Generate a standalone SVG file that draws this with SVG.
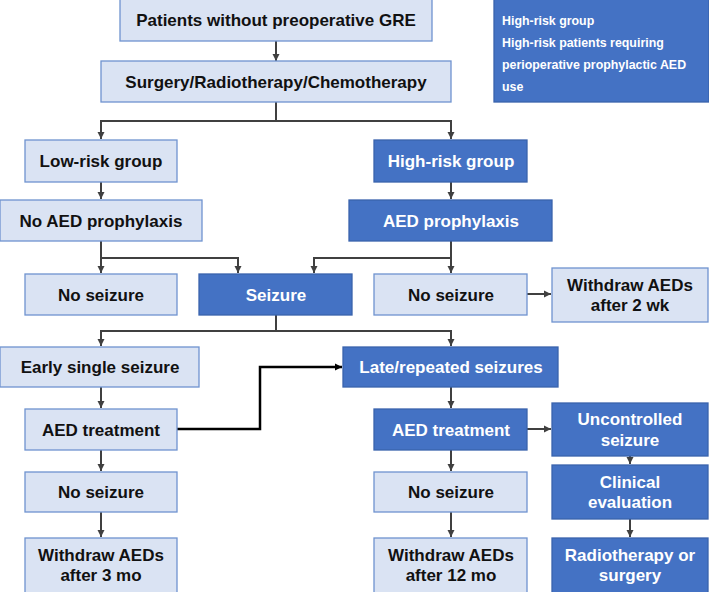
<svg xmlns="http://www.w3.org/2000/svg" width="709" height="592" viewBox="0 0 709 592">
<defs>
<style>
.l{fill:#dae3f3;stroke:#6f93cf;stroke-width:1.3}
.d{fill:#4472c4;stroke:#3a63ad;stroke-width:1.3}
.t{font-family:"Liberation Sans",Arial,sans-serif;font-weight:bold;font-size:17px;text-anchor:middle}
.tl{fill:#111}
.td{fill:#fff}
.lg{font-family:"Liberation Sans",Arial,sans-serif;font-weight:bold;font-size:12.4px;fill:#fff}
.c{fill:none;stroke:#404040;stroke-width:2}
.k{fill:none;stroke:#000;stroke-width:2.5}
</style>
<marker id="a" markerWidth="8" markerHeight="8" refX="7" refY="4" orient="auto" markerUnits="userSpaceOnUse"><path d="M0,0.5 L7,4 L0,7.5 Z" fill="#404040"/></marker>
<marker id="ak" markerWidth="8" markerHeight="8" refX="7" refY="4" orient="auto" markerUnits="userSpaceOnUse"><path d="M0,0.5 L7,4 L0,7.5 Z" fill="#000"/></marker>
</defs>
<rect width="709" height="592" fill="#fff"/>
<g id="legend"><rect class="d" x="494" y="-1" width="215" height="103"/>
<text class="lg" x="502" y="25">High-risk group</text>
<text class="lg" x="502" y="47">High-risk patients requiring</text>
<text class="lg" x="502" y="69">perioperative prophylactic AED</text>
<text class="lg" x="502" y="91">use</text></g>
<g id="connectors">
<path class="c" d="M276,41 V61" marker-end="url(#a)"/>
<path class="c" d="M276,102 V121 H101 V139" marker-end="url(#a)"/>
<path class="c" d="M276,121 H451 V139" marker-end="url(#a)"/>
<path class="c" d="M101,182 V199" marker-end="url(#a)"/>
<path class="c" d="M451,182 V199" marker-end="url(#a)"/>
<path class="c" d="M101,241 V258 V273" marker-end="url(#a)"/>
<path class="c" d="M101,258 H238 V273" marker-end="url(#a)"/>
<path class="c" d="M451,241 V273" marker-end="url(#a)"/>
<path class="c" d="M451,258 H314 V273" marker-end="url(#a)"/>
<path class="c" d="M527,294 H551" marker-end="url(#a)"/>
<path class="c" d="M276,315 V331 H101 V346" marker-end="url(#a)"/>
<path class="c" d="M276,331 H451 V346" marker-end="url(#a)"/>
<path class="c" d="M101,387 V408" marker-end="url(#a)"/>
<path class="k" d="M177,429 H260 V367 H342" marker-end="url(#ak)"/>
<path class="c" d="M451,387 V408" marker-end="url(#a)"/>
<path class="c" d="M527,429 H551" marker-end="url(#a)"/>
<path class="c" d="M630,456 V464" marker-end="url(#a)"/>
<path class="c" d="M630,519 V537" marker-end="url(#a)"/>
<path class="c" d="M101,450 V471" marker-end="url(#a)"/>
<path class="c" d="M101,512 V537" marker-end="url(#a)"/>
<path class="c" d="M451,450 V471" marker-end="url(#a)"/>
<path class="c" d="M451,512 V537" marker-end="url(#a)"/>
</g>
<g id="n1"><rect class="l" x="120" y="-1" width="312" height="42"/><text class="t tl" x="276" y="26">Patients without preoperative GRE</text></g>
<g id="n2"><rect class="l" x="101" y="61" width="350" height="41"/><text class="t tl" x="276" y="88">Surgery/Radiotherapy/Chemotherapy</text></g>
<g id="n3"><rect class="l" x="25" y="140" width="152" height="42"/><text class="t tl" x="101" y="167">Low-risk group</text></g>
<g id="n4"><rect class="d" x="374" y="140" width="153" height="42"/><text class="t td" x="451" y="167">High-risk group</text></g>
<g id="n5"><rect class="l" x="0" y="200" width="202" height="41"/><text class="t tl" x="101" y="227">No AED prophylaxis</text></g>
<g id="n6"><rect class="d" x="349" y="200" width="203" height="41"/><text class="t td" x="451" y="227">AED prophylaxis</text></g>
<g id="n7"><rect class="l" x="25" y="274" width="152" height="41"/><text class="t tl" x="101" y="301">No seizure</text></g>
<g id="n8"><rect class="d" x="199" y="274" width="153" height="41"/><text class="t td" x="276" y="301">Seizure</text></g>
<g id="n9"><rect class="l" x="374" y="274" width="153" height="41"/><text class="t tl" x="451" y="301">No seizure</text></g>
<g id="n10"><rect class="l" x="552" y="268" width="156" height="54"/><text class="t tl" x="630" y="291">Withdraw AEDs</text><text class="t tl" x="630" y="311">after 2 wk</text></g>
<g id="n11"><rect class="l" x="0" y="347" width="199" height="40"/><text class="t tl" x="100" y="373">Early single seizure</text></g>
<g id="n12"><rect class="d" x="343" y="347" width="215" height="40"/><text class="t td" x="451" y="373">Late/repeated seizures</text></g>
<g id="n13"><rect class="l" x="25" y="409" width="152" height="41"/><text class="t tl" x="101" y="436">AED treatment</text></g>
<g id="n14"><rect class="d" x="374" y="409" width="153" height="41"/><text class="t td" x="451" y="436">AED treatment</text></g>
<g id="n15"><rect class="d" x="552" y="403" width="156" height="53"/><text class="t td" x="630" y="425">Uncontrolled</text><text class="t td" x="630" y="446">seizure</text></g>
<g id="n16"><rect class="d" x="552" y="465" width="156" height="54"/><text class="t td" x="630" y="488">Clinical</text><text class="t td" x="630" y="508">evaluation</text></g>
<g id="n17"><rect class="d" x="552" y="538" width="156" height="55"/><text class="t td" x="630" y="561">Radiotherapy or</text><text class="t td" x="630" y="581">surgery</text></g>
<g id="n18"><rect class="l" x="25" y="472" width="152" height="40"/><text class="t tl" x="101" y="498">No seizure</text></g>
<g id="n19"><rect class="l" x="374" y="472" width="153" height="40"/><text class="t tl" x="451" y="498">No seizure</text></g>
<g id="n20"><rect class="l" x="25" y="538" width="152" height="55"/><text class="t tl" x="101" y="561">Withdraw AEDs</text><text class="t tl" x="101" y="581">after 3 mo</text></g>
<g id="n21"><rect class="l" x="374" y="538" width="153" height="55"/><text class="t tl" x="451" y="561">Withdraw AEDs</text><text class="t tl" x="451" y="581">after 12 mo</text></g>
</svg>
